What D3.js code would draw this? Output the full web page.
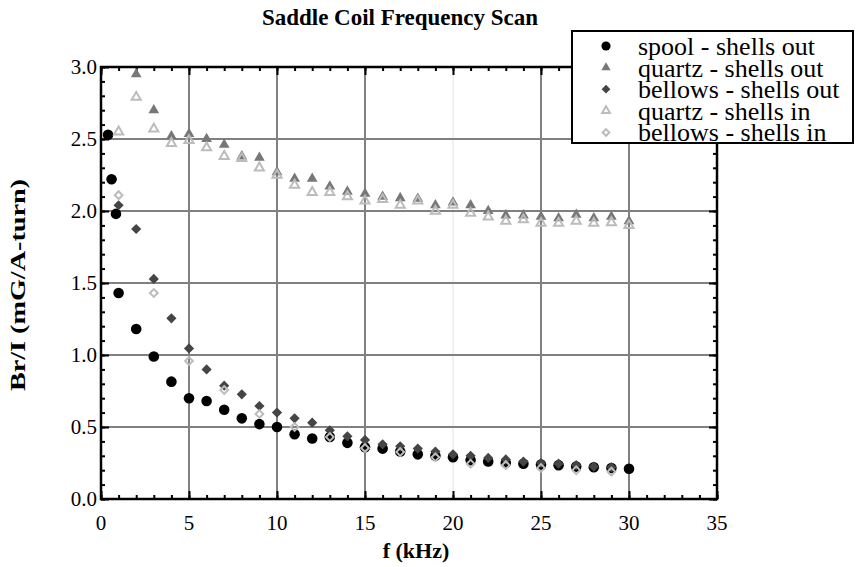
<!DOCTYPE html>
<html>
<head>
<meta charset="utf-8">
<script src="https://cdn.jsdelivr.net/npm/d3@7"></script>
<style>
  body { margin: 0; background: #fff; }
  svg { display: block; font-family: "Liberation Serif", "Times New Roman", serif; }
  .tick-label { font-size: 21px; fill: #000; }
  .title { font-size: 23px; font-weight: bold; }
  .axis-title { font-size: 22px; font-weight: bold; }
  .legend-text { font-size: 26px; }
</style>
</head>
<body>
<svg width="856" height="567"></svg>
<script>
// Data
const spoolFreq = [0.4, 0.6, 0.85, 1, 2, 3, 4, 5, 6, 7, 8, 9, 10, 11, 12, 13, 14, 15, 16, 17, 18, 19, 20, 21, 22, 23, 24, 25, 26, 27, 28, 29, 30];
const spoolOut = [2.53, 2.22, 1.98, 1.43, 1.18, 0.99, 0.815, 0.70, 0.68, 0.62, 0.56, 0.52, 0.50, 0.45, 0.42, 0.43, 0.39, 0.36, 0.35, 0.33, 0.31, 0.30, 0.29, 0.27, 0.26, 0.25, 0.245, 0.24, 0.235, 0.225, 0.22, 0.215, 0.21];

const quartzOutFreq = [2, 3, 4, 5, 6, 7, 8, 9, 10, 11, 12, 13, 14, 15, 16, 17, 18, 19, 20, 21, 22, 23, 24, 25, 26, 27, 28, 29, 30];
const quartzOut = [2.95, 2.70, 2.52, 2.535, 2.50, 2.46, 2.38, 2.37, 2.27, 2.225, 2.225, 2.17, 2.135, 2.12, 2.10, 2.09, 2.085, 2.04, 2.06, 2.04, 2.00, 1.97, 1.97, 1.96, 1.95, 1.975, 1.95, 1.96, 1.93];

const bellowsOutFreq = [1, 2, 3, 4, 5, 6, 7, 8, 9, 10, 11, 12, 13, 14, 15, 16, 17, 18, 19, 20, 21, 22, 23, 24, 25, 26, 27, 28, 29];
const bellowsOut = [2.04, 1.875, 1.528, 1.255, 1.046, 0.90, 0.787, 0.727, 0.646, 0.60, 0.56, 0.53, 0.477, 0.435, 0.41, 0.38, 0.366, 0.35, 0.33, 0.31, 0.30, 0.285, 0.275, 0.26, 0.25, 0.245, 0.235, 0.225, 0.22];

const quartzInFreq = [1, 2, 3, 4, 5, 6, 7, 8, 9, 10, 11, 12, 13, 14, 15, 16, 17, 18, 19, 20, 21, 22, 23, 24, 25, 26, 27, 28, 29, 30];
const quartzIn = [2.55, 2.79, 2.57, 2.47, 2.49, 2.44, 2.38, 2.365, 2.30, 2.25, 2.18, 2.13, 2.13, 2.10, 2.07, 2.08, 2.04, 2.07, 2.00, 2.04, 1.985, 1.96, 1.93, 1.94, 1.915, 1.915, 1.93, 1.915, 1.92, 1.90];

const bellowsInFreq = [1, 3, 5, 7, 9, 11, 13, 15, 17, 19, 21, 23, 25, 27, 29];
const bellowsIn = [2.11, 1.43, 0.958, 0.757, 0.59, 0.50, 0.43, 0.355, 0.326, 0.29, 0.245, 0.235, 0.215, 0.20, 0.19];

const legendLabels = ["spool - shells out", "quartz - shells out", "bellows - shells out", "quartz - shells in", "bellows - shells in"];
const xTicks = [0, 5, 10, 15, 20, 25, 30, 35];
const yTicks = [0, 0.5, 1.0, 1.5, 2.0, 2.5, 3.0];

(function () {
  "use strict";
  const svg = d3.select("svg");

  const margin = { top: 67, left: 101, right: 139, bottom: 68 };
  const width = +svg.attr("width");
  const height = +svg.attr("height");
  const innerWidth = width - margin.left - margin.right;
  const innerHeight = height - margin.top - margin.bottom;

  const xScale = d3.scaleLinear().domain([0, 35]).range([0, innerWidth]);
  const yScale = d3.scaleLinear().domain([0, 3]).range([innerHeight, 0]);

  const g = svg.append("g").attr("transform", `translate(${margin.left},${margin.top})`);

  // grid
  const gridG = g.append("g");
  gridG.selectAll(".vgrid")
    .data(xTicks.slice(1, -1))
    .enter().append("line")
    .attr("x1", (d) => xScale(d)).attr("x2", (d) => xScale(d))
    .attr("y1", 0).attr("y2", innerHeight)
    .attr("stroke", (d) => (d === 20 ? "#e4e4e4" : "#808080"))
    .attr("stroke-width", (d) => (d === 20 ? 1 : 2));
  gridG.selectAll(".hgrid")
    .data(yTicks.slice(1, -1))
    .enter().append("line")
    .attr("x1", 0).attr("x2", innerWidth)
    .attr("y1", (d) => yScale(d)).attr("y2", (d) => yScale(d))
    .attr("stroke", "#808080").attr("stroke-width", 2);

  // inward ticks on all four sides
  const xAxisB = d3.axisBottom(xScale).tickValues(xTicks).tickSize(-8).tickFormat("");
  const xMinorB = d3.axisBottom(xScale).ticks(35).tickSize(-4).tickFormat("");
  const xAxisT = d3.axisTop(xScale).tickValues(xTicks).tickSize(-8).tickFormat("");
  const xMinorT = d3.axisTop(xScale).ticks(35).tickSize(-4).tickFormat("");
  const yAxisL = d3.axisLeft(yScale).tickValues(yTicks).tickSize(-8).tickFormat("");
  const yMinorL = d3.axisLeft(yScale).ticks(30).tickSize(-4).tickFormat("");
  const yAxisR = d3.axisRight(yScale).tickValues(yTicks).tickSize(-8).tickFormat("");
  const yMinorR = d3.axisRight(yScale).ticks(30).tickSize(-4).tickFormat("");

  const axisStyle = (sel) => {
    sel.select(".domain").remove();
    sel.selectAll("line").attr("stroke", "#000").attr("stroke-width", 2);
  };
  g.append("g").attr("transform", `translate(0,${innerHeight})`).call(xMinorB).call(axisStyle);
  g.append("g").attr("transform", `translate(0,${innerHeight})`).call(xAxisB).call(axisStyle);
  g.append("g").call(xMinorT).call(axisStyle);
  g.append("g").call(xAxisT).call(axisStyle);
  g.append("g").call(yMinorL).call(axisStyle);
  g.append("g").call(yAxisL).call(axisStyle);
  g.append("g").attr("transform", `translate(${innerWidth},0)`).call(yMinorR).call(axisStyle);
  g.append("g").attr("transform", `translate(${innerWidth},0)`).call(yAxisR).call(axisStyle);

  // tick labels
  g.append("g").selectAll("text")
    .data(xTicks).enter().append("text")
    .attr("class", "tick-label")
    .attr("x", (d) => xScale(d)).attr("y", innerHeight + 31)
    .attr("text-anchor", "middle")
    .text((d) => d);
  g.append("g").selectAll("text")
    .data(yTicks).enter().append("text")
    .attr("class", "tick-label")
    .attr("x", -4).attr("y", (d) => yScale(d) + 7)
    .attr("text-anchor", "end")
    .text((d) => d.toFixed(1));

  // series
  const series = [
    { freq: spoolFreq, vals: spoolOut, type: d3.symbolCircle, size: 88, rot: 0, fill: "#000", stroke: "none" },
    { freq: quartzOutFreq, vals: quartzOut, type: d3.symbolTriangle, size: 50, rot: 0, fill: "#777", stroke: "none" },
    { freq: bellowsOutFreq, vals: bellowsOut, type: d3.symbolSquare, size: 52, rot: 45, fill: "#454545", stroke: "none" },
    { freq: quartzInFreq, vals: quartzIn, type: d3.symbolTriangle, size: 36, rot: 0, fill: "none", stroke: "#bcbcbc" },
    { freq: bellowsInFreq, vals: bellowsIn, type: d3.symbolSquare, size: 30, rot: 45, fill: "none", stroke: "#bcbcbc" },
  ];

  series.forEach((s) => {
    const pts = s.freq.map((f, i) => ({ f: f, v: s.vals[i] }));
    g.append("g").selectAll("path")
      .data(pts).enter().append("path")
      .attr("d", d3.symbol().type(s.type).size(s.size))
      .attr("transform", (d) => `translate(${xScale(d.f)},${yScale(d.v)}) rotate(${s.rot})`)
      .attr("fill", s.fill)
      .attr("stroke", s.stroke)
      .attr("stroke-width", 2);
  });

  // frame
  g.append("rect")
    .attr("width", innerWidth).attr("height", innerHeight)
    .attr("fill", "none").attr("stroke", "#000").attr("stroke-width", 2.5);

  // titles
  svg.append("text").attr("class", "title")
    .attr("x", 400).attr("y", 25).attr("text-anchor", "middle")
    .text("Saddle Coil Frequency Scan");
  svg.append("text").attr("class", "axis-title")
    .attr("x", 416).attr("y", 558).attr("text-anchor", "middle")
    .text("f (kHz)");
  svg.append("text").attr("class", "axis-title")
    .attr("transform", `translate(25,${margin.top + innerHeight / 2 + 2}) rotate(-90)`)
    .attr("text-anchor", "middle")
    .attr("textLength", 212).attr("lengthAdjust", "spacingAndGlyphs")
    .text("Br/I (mG/A-turn)");

  // legend
  const legend = svg.append("g").attr("transform", "translate(572,31)");
  legend.append("rect")
    .attr("width", 281).attr("height", 112)
    .attr("fill", "#fff").attr("stroke", "#000").attr("stroke-width", 2);
  const rows = legend.selectAll(".row")
    .data(series).enter().append("g")
    .attr("transform", (d, i) => `translate(0,${15 + i * 21.6})`);
  rows.append("path")
    .attr("d", (d) => d3.symbol().type(d.type).size(d.size * 0.75)())
    .attr("transform", (d) => `translate(34,0) rotate(${d.rot})`)
    .attr("fill", (d) => d.fill)
    .attr("stroke", (d) => d.stroke)
    .attr("stroke-width", 2);
  rows.append("text")
    .attr("class", "legend-text")
    .attr("x", 66).attr("y", 9)
    .text((d, i) => legendLabels[i]);
})();
</script>
</body>
</html>
